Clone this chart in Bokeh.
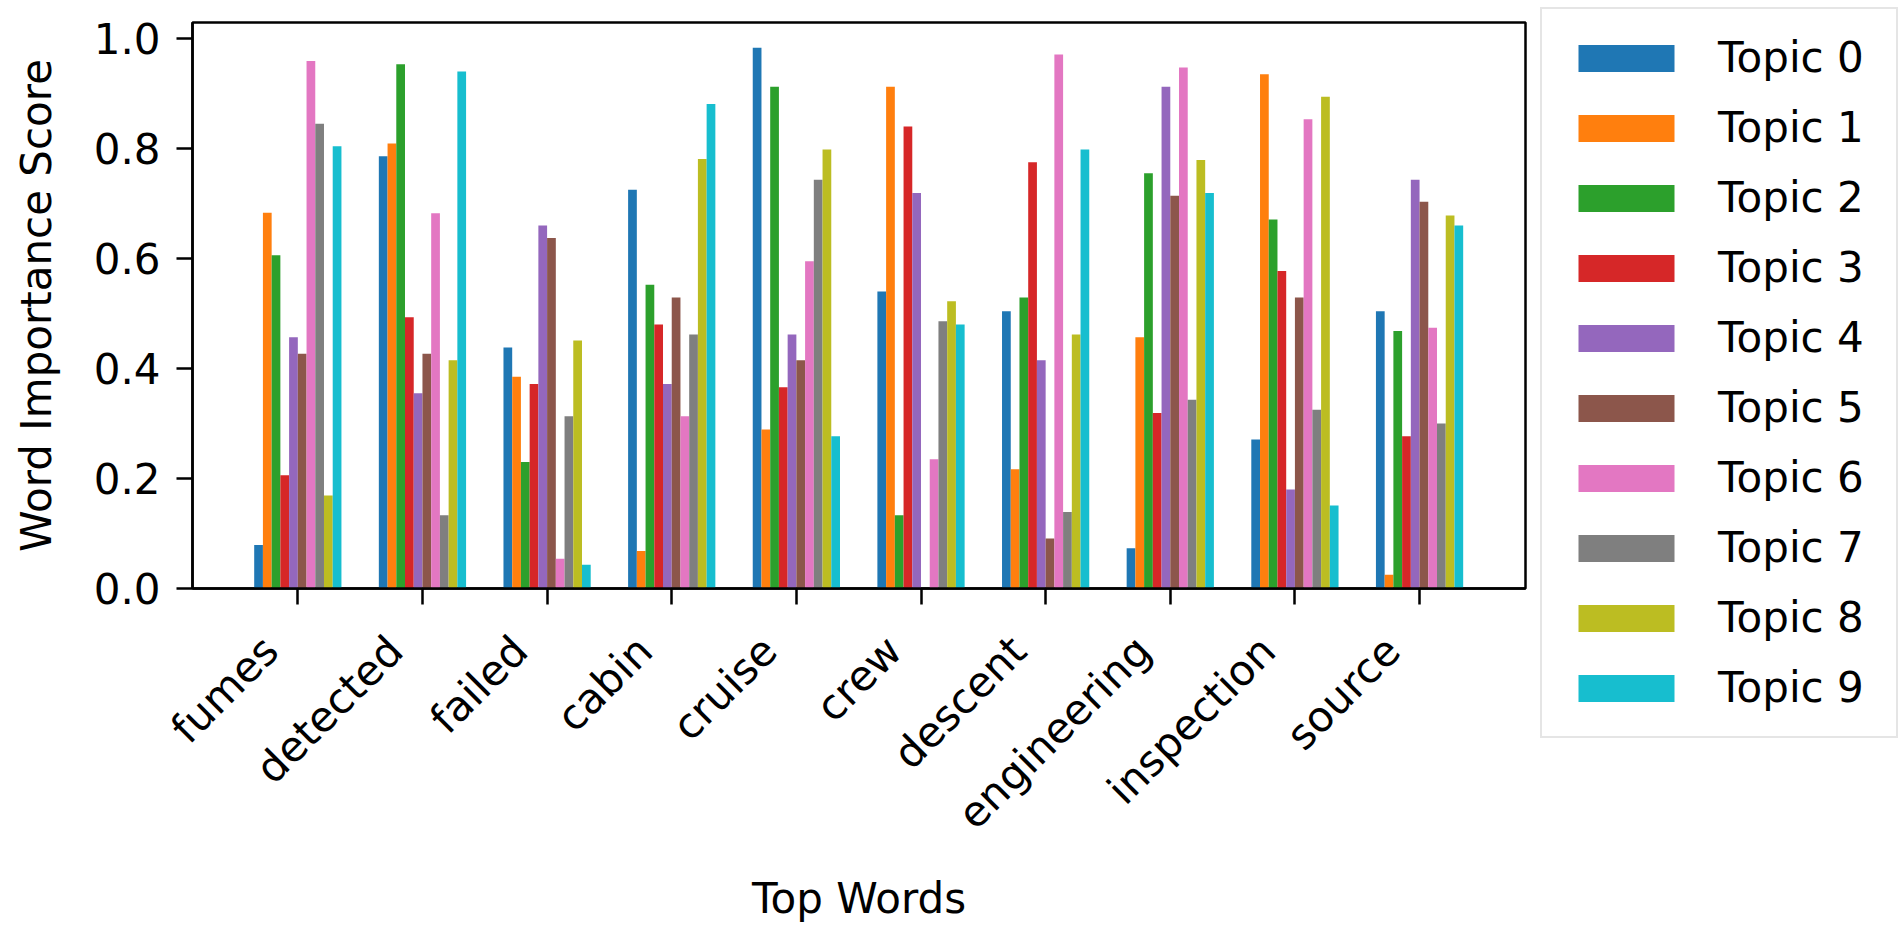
import math
from bokeh.plotting import figure
from bokeh.models import (ColumnDataSource, Range1d, FixedTicker, PrintfTickFormatter,
                          Legend, LegendItem, LinearAxis)
from bokeh.transform import dodge
from bokeh.embed import file_html
from bokeh.resources import INLINE

words = ["fumes", "detected", "failed", "cabin", "cruise", "crew",
         "descent", "engineering", "inspection", "source"]
topic_names = ["Topic 0", "Topic 1", "Topic 2", "Topic 3", "Topic 4",
               "Topic 5", "Topic 6", "Topic 7", "Topic 8", "Topic 9"]

topic_0 = [0.079, 0.786, 0.438, 0.725, 0.983, 0.540, 0.504, 0.073, 0.271, 0.504]
topic_1 = [0.683, 0.809, 0.385, 0.068, 0.289, 0.912, 0.217, 0.457, 0.935, 0.025]
topic_2 = [0.606, 0.953, 0.230, 0.552, 0.912, 0.133, 0.529, 0.755, 0.671, 0.468]
topic_3 = [0.206, 0.493, 0.372, 0.480, 0.366, 0.840, 0.775, 0.319, 0.577, 0.277]
topic_4 = [0.457, 0.355, 0.660, 0.372, 0.462, 0.719, 0.415, 0.912, 0.180, 0.743]
topic_5 = [0.427, 0.427, 0.637, 0.529, 0.415, 0.000, 0.091, 0.714, 0.529, 0.703]
topic_6 = [0.959, 0.682, 0.054, 0.313, 0.595, 0.235, 0.971, 0.947, 0.853, 0.474]
topic_7 = [0.845, 0.133, 0.313, 0.462, 0.743, 0.486, 0.139, 0.343, 0.325, 0.300]
topic_8 = [0.169, 0.415, 0.451, 0.781, 0.798, 0.522, 0.462, 0.779, 0.894, 0.678]
topic_9 = [0.804, 0.940, 0.043, 0.881, 0.277, 0.480, 0.798, 0.719, 0.151, 0.660]

topics = [topic_0, topic_1, topic_2, topic_3, topic_4,
          topic_5, topic_6, topic_7, topic_8, topic_9]
colors = ["#1f77b4", "#ff7f0e", "#2ca02c", "#d62728", "#9467bd",
          "#8c564b", "#e377c2", "#7f7f7f", "#bcbd22", "#17becf"]

data = {"x": list(range(len(words)))}
for j, vals in enumerate(topics):
    data[f"t{j}"] = vals
source = ColumnDataSource(data)

FONT = "DejaVu Sans"
FS = "42px"
BAR_W = 0.07
X0, X1 = -0.845, 9.85
LABEL_SHIFT = 0.2166   # moves the rotated labels so their right end sits left of the tick

p = figure(frame_width=1333, frame_height=566,
           min_border_left=192, min_border_right=371,
           min_border_top=22, min_border_bottom=330,
           x_range=Range1d(X0, X1), y_range=Range1d(0, 1.029),
           output_backend="svg", toolbar_location=None)

renderers = []
for j in range(len(topics)):
    r = p.vbar(x=dodge("x", (j - 4.5) * BAR_W, range=p.x_range), top=f"t{j}",
               width=BAR_W, bottom=0, source=source,
               fill_color=colors[j], line_color=None)
    renderers.append(r)

p.xgrid.visible = False
p.ygrid.visible = False
p.outline_line_color = "black"
p.outline_line_width = 2.5
p.background_fill_color = "white"
p.border_fill_color = "white"

xa = p.xaxis[0]
xa.ticker = FixedTicker(ticks=list(range(len(words))))
xa.major_label_overrides = {i: "" for i in range(len(words))}
xa.major_label_standoff = 0

ya = p.yaxis[0]
ya.ticker = FixedTicker(ticks=[0.0, 0.2, 0.4, 0.6, 0.8, 1.0])
ya.formatter = PrintfTickFormatter(format="%.1f")
ya.axis_label = "Word Importance Score"

# label axis: carries the rotated word labels and the x title
p.extra_x_ranges = {"labels": Range1d(X0 + LABEL_SHIFT, X1 + LABEL_SHIFT)}
la = LinearAxis(x_range_name="labels",
                ticker=FixedTicker(ticks=list(range(len(words)))),
                major_label_overrides={i: w for i, w in enumerate(words)},
                major_label_orientation=math.pi / 4,
                axis_label="Top Words")
p.add_layout(la, "below")

for ax in (xa, ya):
    ax.axis_line_width = 2.5
    ax.axis_line_color = "black"
    ax.major_tick_line_width = 2.5
    ax.major_tick_line_color = "black"
    ax.major_tick_out = 16
    ax.major_tick_in = 0
    ax.minor_tick_line_color = None

for ax in (xa, ya, la):
    ax.major_label_text_font = FONT
    ax.major_label_text_font_size = FS
    ax.major_label_text_color = "black"
    ax.axis_label_text_font = FONT
    ax.axis_label_text_font_size = FS
    ax.axis_label_text_font_style = "normal"
    ax.axis_label_text_color = "black"

la.axis_line_color = None
la.major_tick_line_color = None
la.minor_tick_line_color = None
la.major_tick_out = 0
la.major_tick_in = 0
la.major_label_standoff = 39
la.axis_label_standoff = 15

ya.major_label_standoff = 16
ya.axis_label_standoff = 30

legend = Legend(items=[LegendItem(label=topic_names[j], renderers=[renderers[j]])
                       for j in range(len(topics))],
                location=(15, -150), margin=0, padding=24, spacing=21,
                glyph_width=120, glyph_height=34, label_height=48,
                label_width=154, label_standoff=32,
                label_text_font=FONT, label_text_font_size=FS,
                label_text_color="black",
                border_line_color="#cccccc", border_line_width=2.5,
                background_fill_color="white", background_fill_alpha=1.0)
p.add_layout(legend, "right")

open("out.html", "w").write(file_html(p, INLINE))
